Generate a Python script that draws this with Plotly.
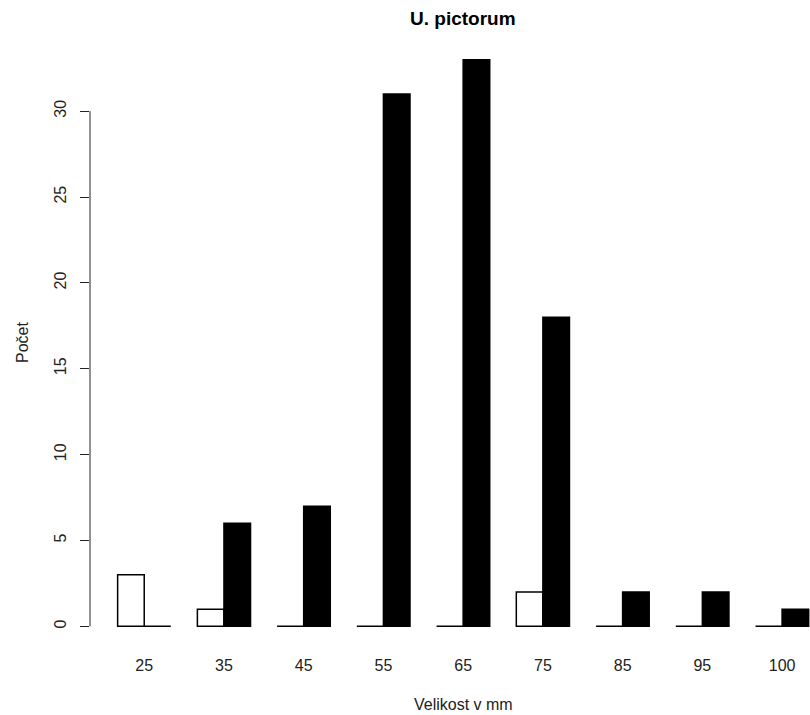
import plotly.graph_objects as go

categories = ["25", "35", "45", "55", "65", "75", "85", "95", "100"]
white_values = [3, 1, 0, 0, 0, 2, 0, 0, 0]
black_values = [0, 6, 7, 31, 33, 18, 2, 2, 1]
y_ticks = [0, 5, 10, 15, 20, 25, 30]

title_text = "U. pictorum"
x_title = "Velikost v mm"
y_title = "Počet"

FONT = "Liberation Sans, Arial, sans-serif"

fig = go.Figure()
fig.add_trace(go.Bar(x=categories, y=white_values, name="white",
                     marker=dict(color="white", line=dict(color="black", width=1.5))))
fig.add_trace(go.Bar(x=categories, y=black_values, name="black",
                     marker=dict(color="black", line=dict(color="black", width=1.5))))

fig.update_layout(
    width=810, height=715,
    margin=dict(l=90, r=0, t=37, b=66, autoexpand=False),
    paper_bgcolor="white", plot_bgcolor="white",
    barmode="group", bargap=1/3, bargroupgap=0,
    showlegend=False,
    font=dict(family=FONT, size=16, color="#222"),
    xaxis=dict(type="category", range=[-0.68, 8.35], showline=False, showgrid=False,
               zeroline=False, ticks="", ticklabelstandoff=5,
               tickfont=dict(size=16, color="#222")),
    yaxis=dict(range=[-1.32, 34.32], tickvals=y_ticks, showgrid=False, zeroline=False,
               showline=False, ticks="outside", ticklen=9, tickwidth=1, tickcolor="#222",
               tickangle=-90, ticklabelstandoff=8, tickfont=dict(size=16, color="#222")),
    shapes=[dict(type="line", xref="paper", yref="y", x0=0, x1=0,
                 y0=y_ticks[0], y1=y_ticks[-1], line=dict(color="#222", width=1))],
    annotations=[
        dict(text="<b>" + title_text + "</b>", xref="x", yref="paper", x=4, y=1,
             yshift=19, showarrow=False, font=dict(size=19, color="black"),
             xanchor="center", yanchor="middle"),
        dict(text=x_title, xref="x", yref="paper", x=4, y=0, yshift=-55,
             showarrow=False, font=dict(size=16, color="#222"),
             xanchor="center", yanchor="middle"),
        dict(text=y_title, xref="paper", yref="paper", x=0, xshift=-68, y=0.5,
             showarrow=False, textangle=-90, font=dict(size=16, color="#222"),
             xanchor="center", yanchor="middle"),
    ],
)

fig.write_html("out.html", config={"displayModeBar": False},
               post_script="document.body.style.margin='0';document.body.style.overflow='hidden';")
